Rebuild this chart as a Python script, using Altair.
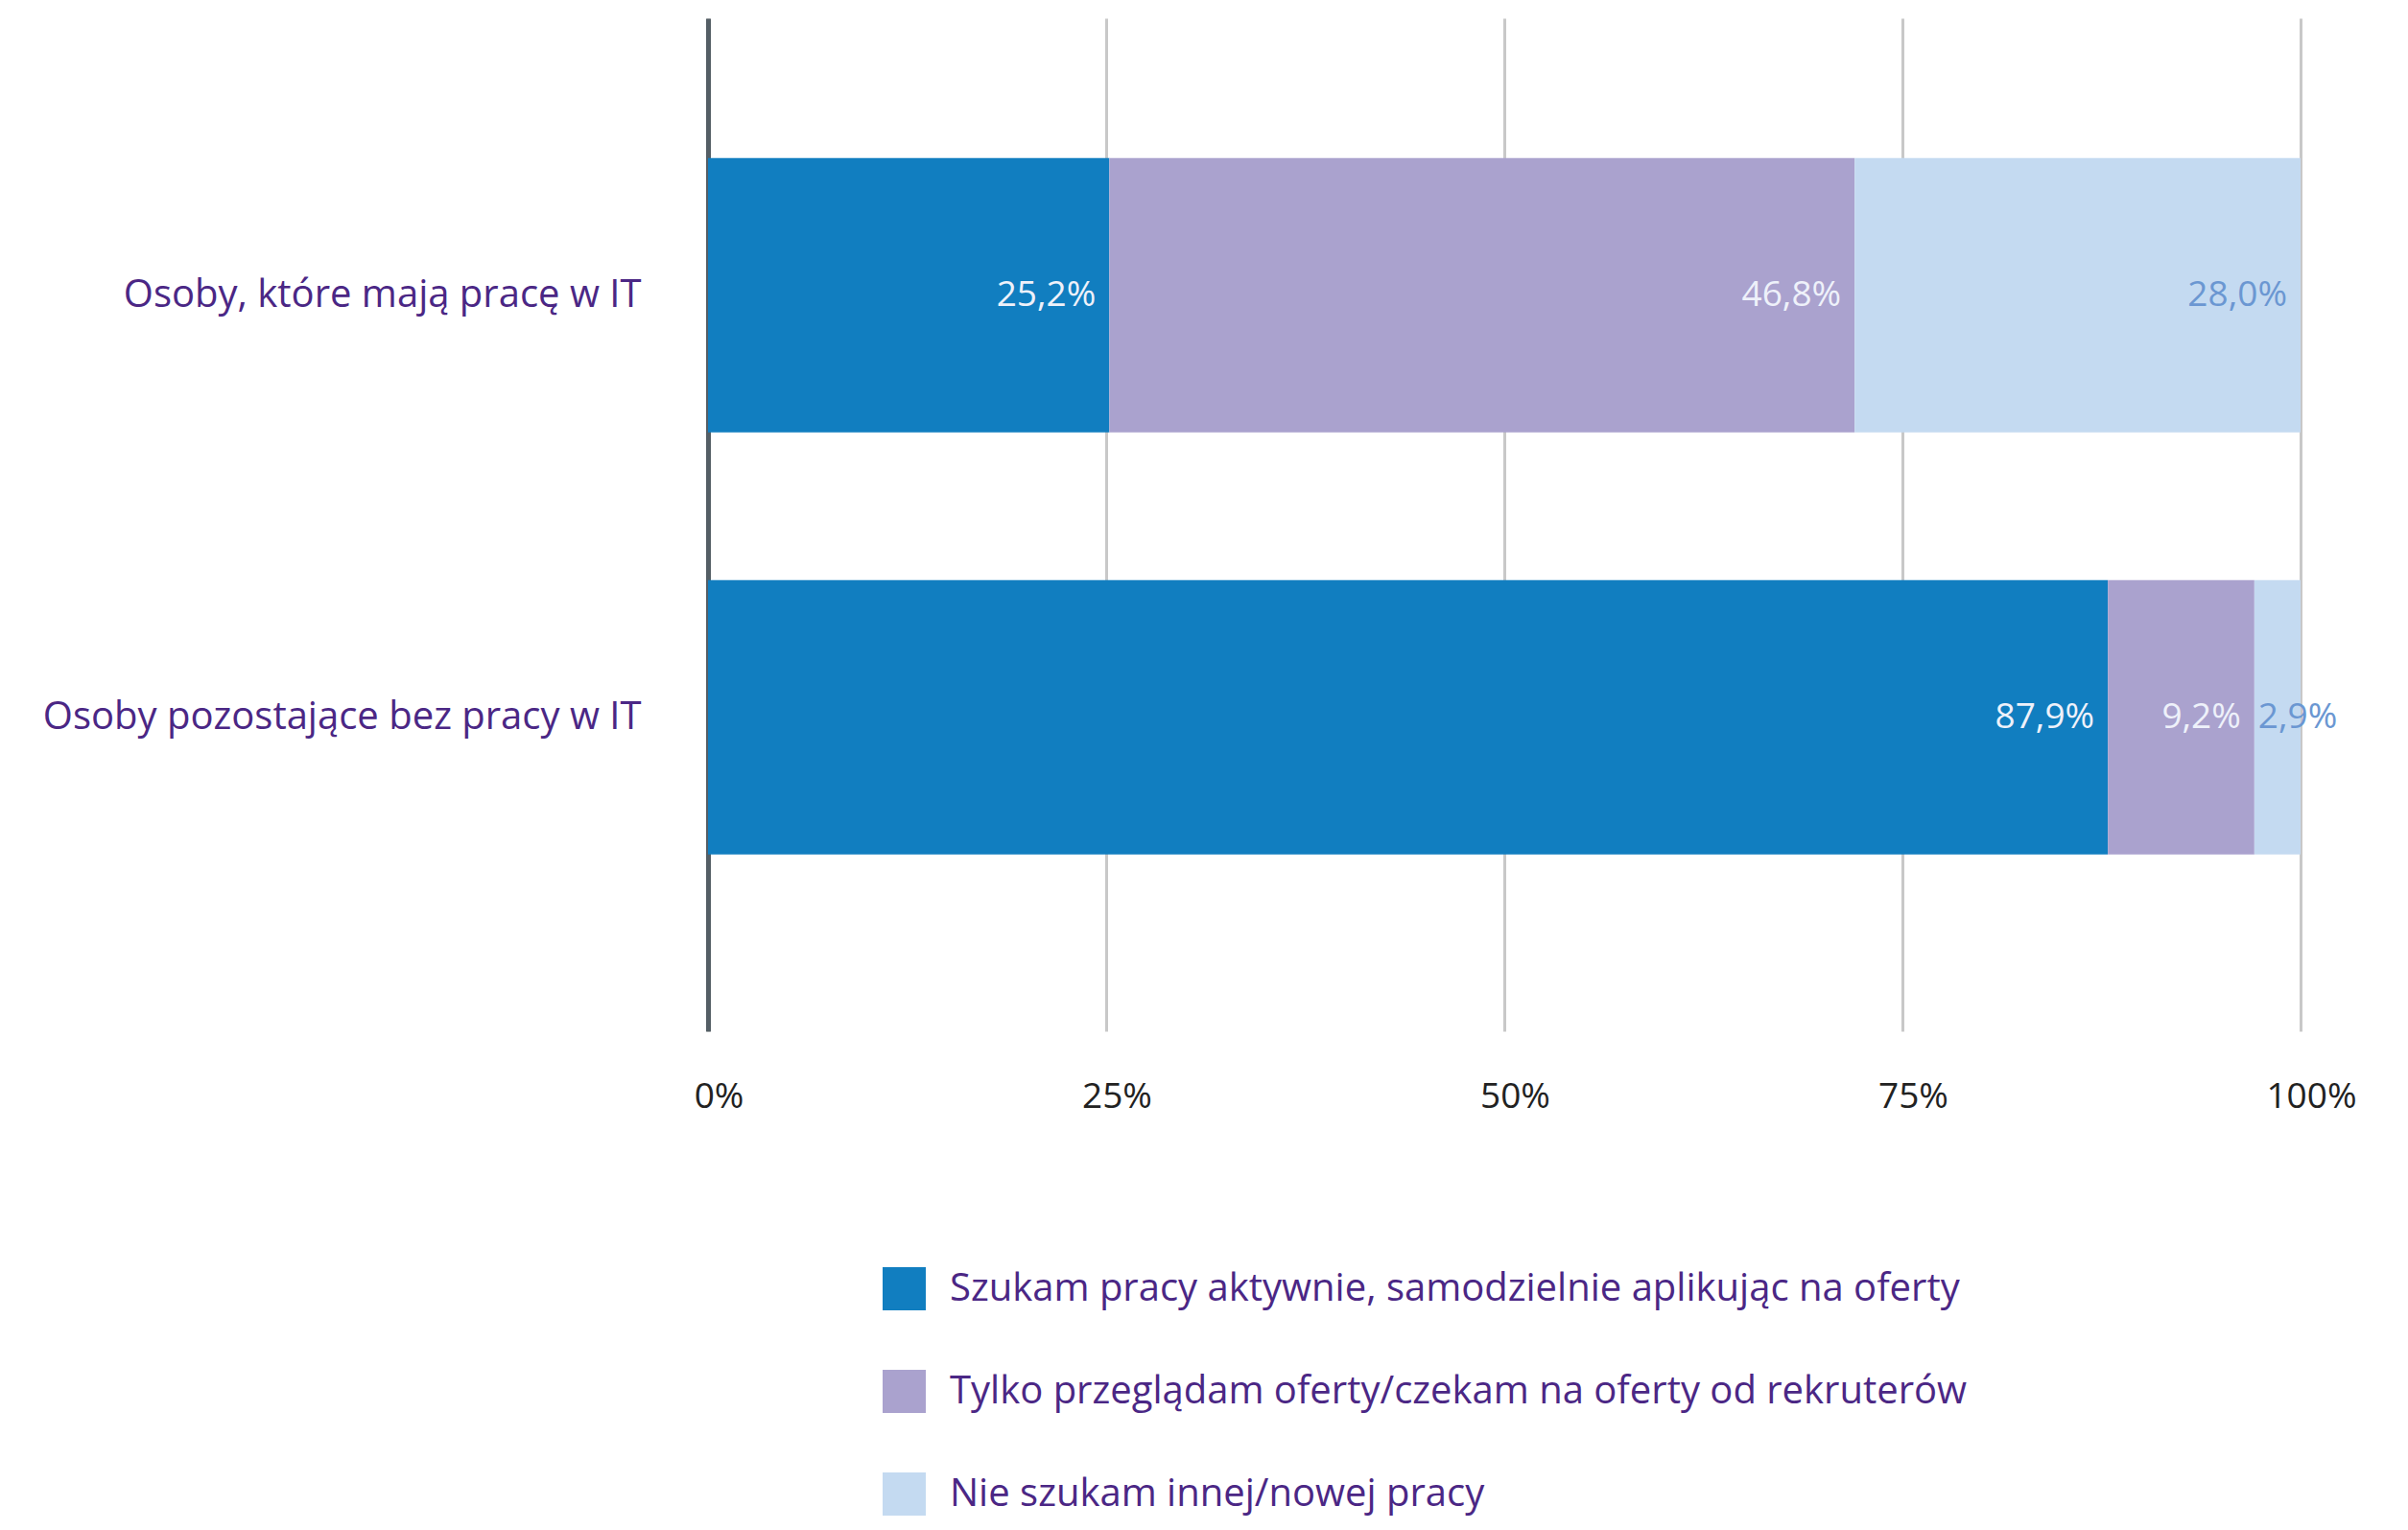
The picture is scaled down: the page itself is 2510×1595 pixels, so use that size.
import altair as alt
import pandas as pd

categories = ["Osoby, które mają pracę w IT", "Osoby pozostające bez pracy w IT"]
series = [
    "Szukam pracy aktywnie, samodzielnie aplikując na oferty",
    "Tylko przeglądam oferty/czekam na oferty od rekruterów",
    "Nie szukam innej/nowej pracy",
]
values_employed = [25.2, 46.8, 28.0]
values_unemployed = [87.9, 9.2, 2.9]
colors = ["#117ec0", "#aaa2ce", "#c4daf1"]
label_colors = ["#eef1fa", "#eef1fa", "#6b97d2"]
tick_values = [0, 25, 50, 75, 100]

rows = []
for cat, vals in zip(categories, [values_employed, values_unemployed]):
    cum = 0.0
    for i, (s, v) in enumerate(zip(series, vals)):
        start = cum
        cum += v
        rows.append({
            "cat": cat, "series": s, "order": i, "value": v,
            "start": start, "end": cum,
            "label": f"{v:.1f}%".replace(".", ","),
            "lcolor": label_colors[i],
        })
df = pd.DataFrame(rows)

FONT = "Open Sans"
PURPLE = "#4b2785"

y_enc = alt.Y(
    "cat:N",
    sort=categories,
    title=None,
    scale=alt.Scale(paddingInner=0.35, paddingOuter=0.375, align=0.442),
    axis=alt.Axis(
        ticks=False, labelPadding=70, labelFontSize=40, labelColor=PURPLE,
        labelFont=FONT, labelLimit=900, domainColor="#545e65", domainWidth=5,
        grid=False,
    ),
)

x_scale = alt.Scale(domain=[0, 100], nice=False)

bars = alt.Chart(df).mark_bar().encode(
    y=y_enc,
    x=alt.X(
        "start:Q", scale=x_scale, title=None,
        axis=alt.Axis(
            values=tick_values, labelExpr="datum.value + '%'", ticks=False,
            domain=False, grid=True, gridColor="#c8c8c8", gridWidth=3,
            labelFontSize=37, labelColor="#222222", labelFont=FONT,
            labelFontWeight=500,
            labelPadding=50, labelFlush=False, labelOffset=11,
        ),
    ),
    x2="end:Q",
    color=alt.Color(
        "series:N",
        scale=alt.Scale(domain=series, range=colors),
        title=None,
        legend=alt.Legend(
            orient="none", legendX=182, legendY=1302, direction="vertical",
            symbolType="square", symbolSize=2025, symbolStrokeWidth=0,
            labelFontSize=40, labelColor=PURPLE, labelFont=FONT,
            labelOffset=25, rowPadding=62, labelLimit=1500,
        ),
    ),
    order=alt.Order("order:Q"),
)

text_big = alt.Chart(df).transform_filter("datum.value >= 5").mark_text(
    align="right", baseline="middle", dx=-14, fontSize=37, font=FONT,
    fontWeight=500,
).encode(
    y=alt.Y("cat:N", sort=categories),
    x=alt.X("end:Q", scale=x_scale),
    text="label:N",
    color=alt.Color("lcolor:N", scale=None),
)

text_small = alt.Chart(df).transform_filter("datum.value < 5").mark_text(
    align="center", baseline="middle", dx=-3, fontSize=37, font=FONT,
    fontWeight=500,
).encode(
    y=alt.Y("cat:N", sort=categories),
    x=alt.X("end:Q", scale=x_scale),
    text="label:N",
    color=alt.Color("lcolor:N", scale=None),
)

chart = alt.layer(bars, text_big, text_small).properties(
    width=1660, height=1056,
    autosize=alt.AutoSizeParams(type="none"),
    padding={"left": 730, "top": 11, "right": 100, "bottom": 512},
).configure_view(stroke=None)

chart.save("out.html", embed_options={"renderer": "svg", "actions": False})
